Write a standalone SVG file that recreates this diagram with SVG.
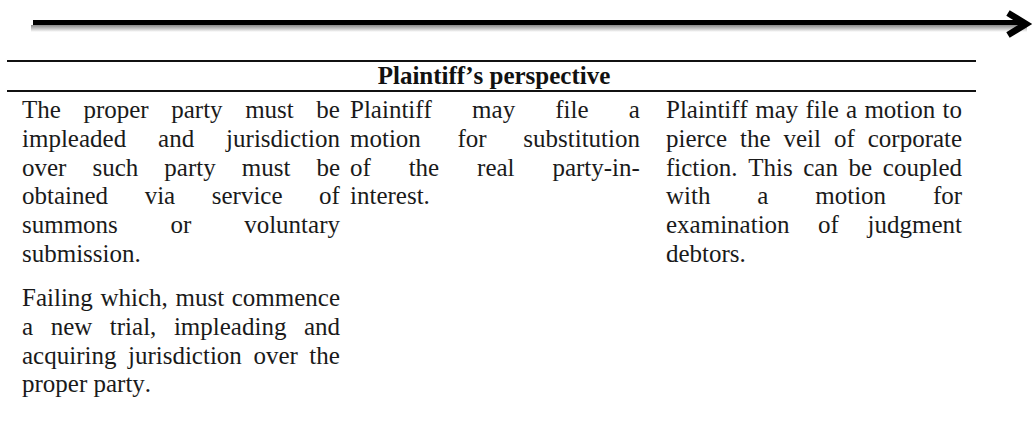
<svg xmlns="http://www.w3.org/2000/svg" width="1033" height="421" viewBox="0 0 1033 421">
  <style>
    .t { font-family: "Liberation Serif", "Times New Roman", serif; font-size: 25px; fill: #1a1a1a; font-kerning: none; font-variant-ligatures: none; }
    .h { font-family: "Liberation Serif", "Times New Roman", serif; font-size: 25px; font-weight: bold; fill: #111; font-kerning: none; font-variant-ligatures: none; }
    .rule { stroke: #111; stroke-width: 1.8; }
  </style>
  <defs>
    <linearGradient id="shadow" x1="0" y1="0" x2="0" y2="1">
      <stop offset="0" stop-color="#8a8a8a"/>
      <stop offset="0.5" stop-color="#c4c4c4"/>
      <stop offset="1" stop-color="#ffffff"/>
    </linearGradient>
  </defs>
  <rect width="1033" height="421" fill="#ffffff"/>

  <g id="timeline-arrow">
    <rect x="31" y="25" width="996" height="7" fill="url(#shadow)"/>
    <line x1="33" y1="22.5" x2="1022" y2="22.5" stroke="#000" stroke-width="5"/>
    <polyline points="1008,13 1026,24 1008,35" fill="none" stroke="#000" stroke-width="6.5" stroke-linejoin="miter" stroke-miterlimit="10"/>
  </g>

  <g id="table">
    <line class="rule" x1="7" y1="61" x2="976" y2="61"/>
    <text class="h" x="494" y="84" text-anchor="middle">Plaintiff’s perspective</text>
    <line class="rule" x1="7" y1="91" x2="976" y2="91"/>
  </g>

  <g id="col-1">
    <text class="t" x="22" y="118" style="word-spacing:16.3px">The proper party must be</text>
    <text class="t" x="22" y="146.8" style="word-spacing:25.7px">impleaded and jurisdiction</text>
    <text class="t" x="22" y="175.6" style="word-spacing:19.8px">over such party must be</text>
    <text class="t" x="22" y="204.4" style="word-spacing:30.3px">obtained via service of</text>
    <text class="t" x="22" y="233.2" style="word-spacing:46.5px">summons or voluntary</text>
    <text class="t" x="22" y="262">submission.</text>
    <text class="t" x="22" y="306" style="word-spacing:1.4px">Failing which, must commence</text>
    <text class="t" x="22" y="334.8" style="word-spacing:11.3px">a new trial, impleading and</text>
    <text class="t" x="22" y="363.6" style="word-spacing:5.3px">acquiring jurisdiction over the</text>
    <text class="t" x="22" y="392.4">proper party.</text>
  </g>

  <g id="col-2">
    <text class="t" x="350" y="118" style="word-spacing:33.9px">Plaintiff may file a</text>
    <text class="t" x="350" y="146.8" style="word-spacing:30.4px">motion for substitution</text>
    <text class="t" x="350" y="175.6" style="word-spacing:31.6px">of the real party-in-</text>
    <text class="t" x="350" y="204.4">interest.</text>
  </g>

  <g id="col-3">
    <text class="t" x="666" y="118" style="word-spacing:1px">Plaintiff may file a motion to</text>
    <text class="t" x="666" y="146.8" style="word-spacing:6.7px">pierce the veil of corporate</text>
    <text class="t" x="666" y="175.6" style="word-spacing:4.4px">fiction. This can be coupled</text>
    <text class="t" x="666" y="204.4" style="word-spacing:40.6px">with a motion for</text>
    <text class="t" x="666" y="233.2" style="word-spacing:22.3px">examination of judgment</text>
    <text class="t" x="666" y="262">debtors.</text>
  </g>
</svg>
